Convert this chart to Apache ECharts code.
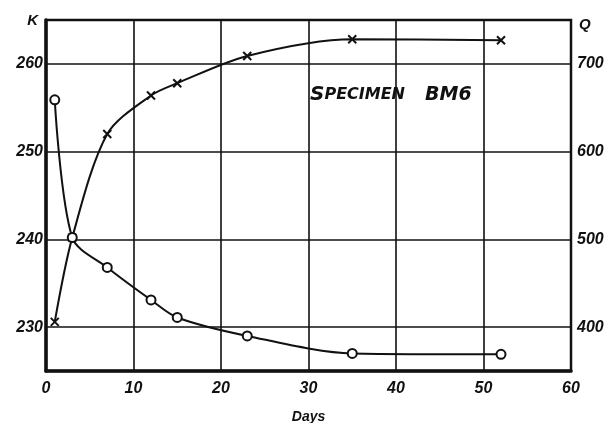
<!DOCTYPE html>
<html>
<head>
<meta charset="utf-8">
<script src="https://cdn.jsdelivr.net/npm/echarts@6/dist/echarts.min.js"></script>
<style>html,body{margin:0;padding:0;background:#fff;}#c{width:609px;height:423px;}</style>
</head>
<body>
<div id="c"></div>
<script>
// Days and K values (crosses, left axis)
const kDays = [1, 3, 7, 12, 15, 23, 35, 52];
const kValues = [230.6, 240.2, 252.0, 256.4, 257.8, 260.9, 262.8, 262.7];
// Days and Q values (circles, right axis)
const qDays = [1, 3, 7, 12, 15, 23, 35, 52];
const qValues = [659, 502, 468, 431, 411, 390, 370, 369];
// Tick labels
const xTicks = [0, 10, 20, 30, 40, 50, 60];
const kTicks = [230, 240, 250, 260];
const qTicks = [400, 500, 600, 700];

const ink = '#111';
const labelFont = {color: ink, fontStyle: 'italic', fontFamily: 'Liberation Sans', fontSize: 16, fontWeight: 'bold'};
const titleFont = {fontStyle: 'italic', fontWeight: 'bold', fontFamily: 'DejaVu Sans', color: ink};

const chart = echarts.init(document.getElementById('c'), null, {renderer: 'canvas'});
chart.setOption({
  backgroundColor: '#fff',
  animation: false,
  title: {
    text: '{a|S}{b|PECIMEN}    {c|BM6}',
    left: 305, top: 80,
    textStyle: {
      rich: {
        a: Object.assign({fontSize: 20}, titleFont),
        b: Object.assign({fontSize: 16}, titleFont),
        c: Object.assign({fontSize: 19}, titleFont)
      }
    }
  },
  grid: {left: 46, right: 38, top: 20, bottom: 52, outerBoundsMode: 'none', show: true, borderColor: ink, borderWidth: 2.5, backgroundColor: 'transparent'},
  xAxis: {
    type: 'value', min: 0, max: 60, interval: 10,
    name: 'Days', nameLocation: 'middle', nameGap: 39,
    nameTextStyle: {color: ink, fontStyle: 'italic', fontFamily: 'Liberation Sans', fontSize: 14, fontWeight: 'bold'},
    axisLine: {show: true, lineStyle: {color: ink, width: 3.5}},
    axisTick: {show: false},
    axisLabel: Object.assign({margin: 10, formatter: v => xTicks.includes(v) ? String(v) : ''}, labelFont),
    splitLine: {show: true, lineStyle: {color: ink, width: 1.6}}
  },
  yAxis: [
    {
      type: 'value', min: 225, max: 265, interval: 5, position: 'left',
      name: 'K', nameLocation: 'end', nameGap: -8,
      nameTextStyle: {color: ink, fontStyle: 'italic', fontFamily: 'Liberation Sans', fontSize: 15, fontWeight: 'bold', align: 'right', padding: [0, 8, 0, 0]},
      axisLine: {show: true, lineStyle: {color: ink, width: 3.5}},
      axisTick: {show: false},
      axisLabel: Object.assign({margin: 3, formatter: v => kTicks.includes(v) ? String(v) : ''}, labelFont),
      splitLine: {show: true, lineStyle: {color: ['transparent', ink], width: 1.6}}
    },
    {
      type: 'value', min: 350, max: 750, interval: 50, position: 'right',
      name: 'Q', nameLocation: 'end', nameGap: -12,
      nameTextStyle: {color: ink, fontStyle: 'italic', fontFamily: 'Liberation Sans', fontSize: 15, fontWeight: 'bold', align: 'left', padding: [0, 0, 0, 8]},
      axisLine: {show: true, lineStyle: {color: ink, width: 2}},
      axisTick: {show: false},
      axisLabel: Object.assign({margin: 6, formatter: v => qTicks.includes(v) ? String(v) : ''}, labelFont),
      splitLine: {show: false}
    }
  ],
  series: [
    {
      name: 'K', type: 'line', yAxisIndex: 0, smooth: 0.3,
      data: kDays.map((d, i) => [d, kValues[i]]),
      symbol: 'path://M0,0L10,10M10,0L0,10', symbolSize: 8,
      itemStyle: {color: ink, borderColor: ink, borderWidth: 2},
      lineStyle: {color: ink, width: 2},
      z: 5
    },
    {
      name: 'Q', type: 'line', yAxisIndex: 1, smooth: 0.3,
      data: qDays.map((d, i) => [d, qValues[i]]),
      symbol: 'circle', symbolSize: 9,
      itemStyle: {color: '#fff', borderColor: ink, borderWidth: 2},
      lineStyle: {color: ink, width: 2},
      z: 6
    }
  ]
});
</script>
</body>
</html>
